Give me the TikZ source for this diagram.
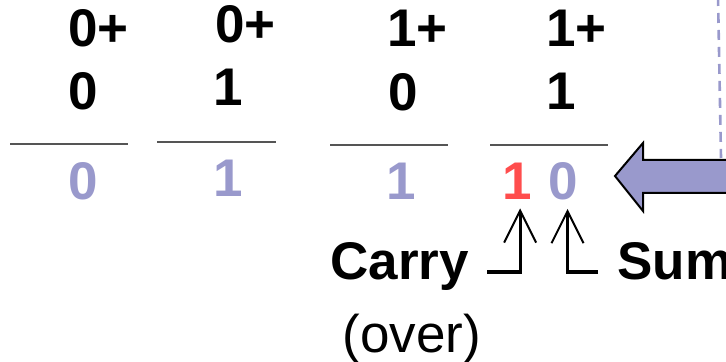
\documentclass[tikz,border=0pt]{standalone}
\usepackage{fontspec}
\setmainfont{Liberation Sans}
\usetikzlibrary{arrows.meta}
\definecolor{sumblue}{HTML}{9999CC}
\definecolor{carryred}{HTML}{FF4D4D}
\definecolor{rulegray}{HTML}{555555}
\tikzset{
	digit/.style={inner sep=0pt, anchor=base west, font=\fontsize{26.5}{32}\selectfont\bfseries},
	label/.style={inner sep=0pt, anchor=base west, font=\fontsize{26.5}{32}\selectfont},
	bar/.style={rulegray, line width=0.7pt},
	pointer/.style={line width=1.6pt, -{Straight Barb[length=16pt,width=16pt,line width=1pt]}},
}

\begin{document}
\begin{tikzpicture}[x=0.5pt,y=-0.5pt]
	\clip (0,0) rectangle (726,362);
	
	\node[digit] (a1) at (68,47) {0+};
	\node[digit] (a2) at (215,43) {0+};
	\node[digit] (a3) at (387,47) {1+};
	\node[digit] (a4) at (546,47) {1+};
	
	\node[digit] (b1) at (68,110) {0};
	\node[digit] (b2) at (213,106) {1};
	\node[digit] (b3) at (388,111) {0};
	\node[digit] (b4) at (546,110) {1};
	
	\draw[bar] (10,144) -- (128,144);
	\draw[bar] (157,142) -- (276,142);
	\draw[bar] (330,145) -- (448,145);
	\draw[bar] (490,145) -- (608,145);
	
	\node[digit, sumblue] (s1) at (68,200) {0};
	\node[digit, sumblue] (s2) at (213,197) {1};
	\node[digit, sumblue] (s3) at (386,200) {1};
	\node[digit, carryred] (c4) at (502,200) {1};
	\node[digit, sumblue] (s4) at (548,200) {0};
	
	\node[digit] (carry) at (330,280) {Carry};
	\node[label] (over) at (342,352) {(over)};
	\node[digit] (sum) at (617,280) {Sum};
	
	\coordinate (cl) at (487,272);
	\coordinate (cr) at (598,272);
	\draw[pointer, shorten >=4pt] (cl) -| ([xshift=1.5pt]c4.south);
	\draw[pointer, shorten >=4pt] (cr) -| ([xshift=2.2pt]s4.south);
	
	\draw[sumblue, line width=1.3pt, dash pattern=on 5pt off 3.5pt] (718,-4) -- (721,158);
	\draw[fill=sumblue, line width=1pt, line join=miter] (615,176) -- (643,143) -- (643,160) -- (745,160)
		-- (745,193) -- (643,193) -- (643,211) -- cycle;
\end{tikzpicture}
\end{document}
